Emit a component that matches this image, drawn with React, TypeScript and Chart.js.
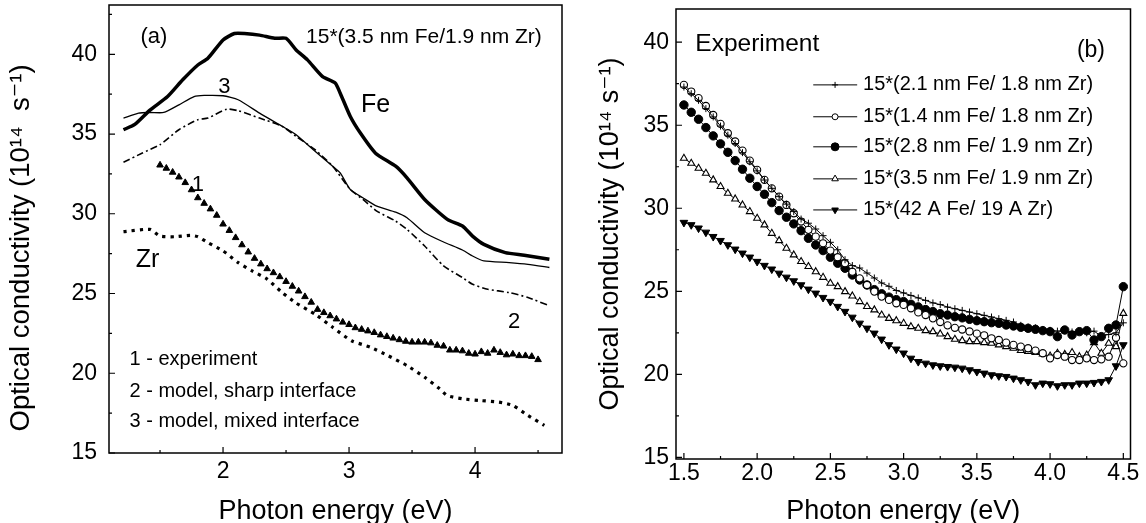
import React, { useEffect, useRef } from "react";
import { Chart, registerables } from "chart.js";

Chart.register(...registerables);

const FONT = '"Liberation Sans", Arial, "DejaVu Sans", sans-serif';

// ---------------- Panel (a) data ----------------
const feEnergy = [1.21, 1.3, 1.42, 1.56, 1.68, 1.8, 1.88, 2.0, 2.09, 2.17, 2.29, 2.41, 2.5, 2.58, 2.67, 2.79, 2.89, 2.93, 3.01, 3.09, 3.21, 3.37, 3.46, 3.6, 3.78, 3.9, 3.98, 4.07, 4.24, 4.39, 4.59];
const feSigma = [35.27, 35.6, 36.5, 37.35, 38.4, 39.33, 39.75, 40.9, 41.3, 41.3, 41.2, 41.0, 41.0, 40.27, 39.65, 38.6, 38.2, 37.56, 36.1, 35.06, 33.8, 32.98, 32.25, 30.9, 29.65, 29.23, 28.6, 28.08, 27.56, 27.4, 27.15];

const mixedEnergy = [1.21, 1.33, 1.42, 1.53, 1.65, 1.77, 1.85, 2.0, 2.12, 2.29, 2.47, 2.58, 2.73, 2.87, 2.93, 3.01, 3.11, 3.22, 3.37, 3.46, 3.6, 3.75, 3.9, 3.98, 4.07, 4.27, 4.42, 4.59];
const mixedSigma = [36.0, 36.31, 36.35, 36.35, 36.83, 37.35, 37.42, 37.4, 37.15, 36.31, 35.48, 34.96, 33.92, 32.98, 32.56, 31.52, 31.0, 30.48, 30.1, 29.75, 28.81, 28.23, 27.73, 27.35, 27.04, 26.94, 26.83, 26.63];

const sharpEnergy = [1.21, 1.36, 1.5, 1.65, 1.8, 1.88, 2.03, 2.12, 2.29, 2.47, 2.58, 2.73, 2.87, 3.01, 3.11, 3.22, 3.37, 3.46, 3.6, 3.75, 3.9, 3.98, 4.1, 4.27, 4.42, 4.59];
const sharpSigma = [33.23, 33.81, 34.33, 35.27, 35.9, 36.0, 36.56, 36.46, 36.0, 35.48, 34.85, 34.02, 32.98, 31.52, 30.9, 30.17, 29.54, 29.02, 27.98, 26.73, 26.0, 25.58, 25.27, 25.06, 24.75, 24.23];

const expEnergy = [1.5, 1.55, 1.6, 1.65, 1.7, 1.75, 1.8, 1.85, 1.9, 1.95, 2.0, 2.05, 2.1, 2.15, 2.2, 2.25, 2.3, 2.35, 2.4, 2.45, 2.5, 2.55, 2.6, 2.65, 2.7, 2.75, 2.8, 2.85, 2.9, 2.95, 3.0, 3.05, 3.1, 3.15, 3.2, 3.25, 3.3, 3.35, 3.4, 3.45, 3.5, 3.55, 3.6, 3.65, 3.7, 3.75, 3.8, 3.85, 3.9, 3.95, 4.0, 4.05, 4.1, 4.15, 4.2, 4.25, 4.3, 4.35, 4.4, 4.45, 4.5];
const expSigma = [33.05, 32.85, 32.6, 32.3, 31.95, 31.5, 31.0, 30.65, 30.3, 29.9, 29.35, 28.95, 28.5, 28.05, 27.6, 27.2, 26.85, 26.55, 26.3, 26.05, 25.75, 25.45, 25.15, 24.8, 24.45, 24.0, 23.8, 23.6, 23.4, 23.2, 23.05, 22.85, 22.75, 22.65, 22.55, 22.4, 22.3, 22.2, 22.1, 22.0, 21.95, 21.95, 21.95, 21.9, 21.75, 21.7, 21.45, 21.45, 21.4, 21.25, 21.2, 21.35, 21.25, 21.45, 21.3, 21.15, 21.2, 21.1, 21.1, 21.05, 20.85];

const zrEnergy = [1.21, 1.42, 1.5, 1.62, 1.74, 1.8, 1.88, 2.0, 2.12, 2.23, 2.35, 2.47, 2.58, 2.73, 2.87, 3.02, 3.17, 3.31, 3.46, 3.6, 3.72, 3.78, 3.9, 4.04, 4.19, 4.3, 4.42, 4.55];
const zrSigma = [28.88, 29.02, 28.6, 28.56, 28.65, 28.56, 28.19, 27.67, 26.94, 26.42, 25.9, 25.06, 24.4, 23.71, 22.88, 22.04, 21.63, 21.1, 20.48, 19.75, 19.02, 18.6, 18.4, 18.29, 18.19, 17.98, 17.35, 16.73];

const aXTicks = [2, 3, 4];
const aXTickLabels = ["2", "3", "4"];
const aXMinor = [1.5, 2.5, 3.5, 4.5];
const aYTicks = [15, 20, 25, 30, 35, 40];
const aYTickLabels = ["15", "20", "25", "30", "35", "40"];
const aYMinor = [17.5, 22.5, 27.5, 32.5, 37.5, 42.5];

// ---------------- Panel (b) data ----------------
const bEnergy = [1.5, 1.55, 1.6, 1.65, 1.7, 1.75, 1.8, 1.85, 1.9, 1.95, 2.0, 2.05, 2.1, 2.15, 2.2, 2.25, 2.3, 2.35, 2.4, 2.45, 2.5, 2.55, 2.6, 2.65, 2.7, 2.75, 2.8, 2.85, 2.9, 2.95, 3.0, 3.05, 3.1, 3.15, 3.2, 3.25, 3.3, 3.35, 3.4, 3.45, 3.5, 3.55, 3.6, 3.65, 3.7, 3.75, 3.8, 3.85, 3.9, 3.95, 4.0, 4.05, 4.1, 4.15, 4.2, 4.25, 4.3, 4.35, 4.4, 4.45, 4.5];

const s21_18 = [37.3, 36.9, 36.5, 36.0, 35.5, 34.95, 34.4, 33.9, 33.35, 32.8, 32.25, 31.7, 31.2, 30.7, 30.25, 29.8, 29.35, 29.1, 28.75, 28.35, 27.95, 27.5, 26.9, 26.55, 26.4, 26.1, 25.8, 25.5, 25.3, 25.05, 24.9, 24.75, 24.6, 24.45, 24.3, 24.2, 24.05, 23.95, 23.85, 23.75, 23.65, 23.55, 23.45, 23.35, 23.25, 23.15, 22.95, 22.85, 22.8, 22.7, 22.65, 22.6, 22.62, 22.55, 22.6, 22.5, 22.6, 22.3, 22.4, 22.5, 23.1];
const s14_18 = [37.43, 37.03, 36.63, 36.16, 35.62, 35.08, 34.52, 34.02, 33.47, 32.87, 32.31, 31.71, 31.2, 30.7, 30.2, 29.7, 29.2, 28.7, 28.29, 27.89, 27.45, 27.05, 26.69, 26.18, 25.78, 25.38, 24.98, 24.68, 24.48, 24.28, 24.18, 23.98, 23.73, 23.57, 23.37, 23.15, 22.95, 22.8, 22.7, 22.58, 22.45, 22.35, 22.17, 22.07, 21.91, 21.77, 21.67, 21.57, 21.43, 21.27, 20.96, 21.16, 21.06, 20.86, 20.86, 20.96, 20.86, 20.9, 21.06, 22.2, 20.66];
const s28_19 = [36.22, 35.78, 35.36, 34.86, 34.36, 33.88, 33.37, 32.87, 32.35, 31.81, 31.31, 30.84, 30.34, 29.86, 29.46, 29.06, 28.65, 28.19, 27.79, 27.45, 27.05, 26.69, 26.39, 25.98, 25.68, 25.38, 25.1, 24.85, 24.65, 24.5, 24.38, 24.22, 24.06, 23.9, 23.78, 23.65, 23.57, 23.47, 23.4, 23.31, 23.23, 23.17, 23.11, 23.07, 22.97, 22.91, 22.83, 22.77, 22.71, 22.63, 22.57, 22.27, 22.67, 22.37, 22.57, 22.63, 22.07, 22.27, 22.77, 22.97, 25.28];
const s35_19 = [33.01, 32.71, 32.41, 32.11, 31.71, 31.31, 30.9, 30.56, 30.2, 29.8, 29.4, 29.0, 28.49, 28.05, 27.59, 27.19, 26.79, 26.49, 26.18, 25.84, 25.48, 25.28, 24.98, 24.72, 24.38, 24.08, 23.88, 23.57, 23.37, 23.23, 23.07, 22.87, 22.77, 22.63, 22.57, 22.43, 22.27, 22.11, 22.03, 21.97, 21.97, 21.91, 21.87, 21.77, 21.67, 21.57, 21.43, 21.37, 21.31, 21.22, 21.1, 21.27, 21.2, 21.31, 21.06, 21.16, 21.91, 21.27, 21.87, 21.67, 23.67];
const s42_19 = [29.14, 29.0, 28.8, 28.55, 28.29, 28.05, 27.79, 27.53, 27.29, 27.05, 26.79, 26.55, 26.33, 26.08, 25.84, 25.62, 25.38, 25.12, 24.88, 24.62, 24.38, 24.08, 23.78, 23.43, 23.07, 22.77, 22.47, 22.11, 21.77, 21.51, 21.27, 20.96, 20.76, 20.66, 20.56, 20.5, 20.46, 20.42, 20.36, 20.26, 20.16, 20.06, 19.96, 19.9, 19.86, 19.76, 19.66, 19.56, 19.36, 19.46, 19.42, 19.3, 19.36, 19.36, 19.46, 19.46, 19.5, 19.56, 19.66, 20.5, 21.77];

const bSeriesNames = [
  "15*(2.1 nm Fe/ 1.8 nm Zr)",
  "15*(1.4 nm Fe/ 1.8 nm Zr)",
  "15*(2.8 nm Fe/ 1.9 nm Zr)",
  "15*(3.5 nm Fe/ 1.9 nm Zr)",
  "15*(42 A Fe/ 19 A Zr)",
];

const bXTicks = [1.5, 2.0, 2.5, 3.0, 3.5, 4.0, 4.5];
const bXTickLabels = ["1.5", "2.0", "2.5", "3.0", "3.5", "4.0", "4.5"];
const bXMinor = [1.75, 2.25, 2.75, 3.25, 3.75, 4.25];
const bYTicks = [15, 20, 25, 30, 35, 40];
const bYTickLabels = ["15", "20", "25", "30", "35", "40"];
const bYMinor = [17.5, 22.5, 27.5, 32.5, 37.5];

const Y_TITLE_A = "Optical conductivity (10¹⁴  s⁻¹)";
const Y_TITLE_B = "Optical conductivity (10¹⁴ s⁻¹)";
const X_TITLE = "Photon energy (eV)";

// ---------------- helpers ----------------
const pts = (xs: number[], ys: number[]) => xs.map((x, i) => ({ x, y: ys[i] }));

type Marker = "cross" | "openCircle" | "filledCircle" | "openTriangle" | "filledDown";

const markerStyle: Record<Marker, any> = {
  cross: { pointStyle: "cross", pointRadius: 3.5, pointBackgroundColor: "#000", pointBorderWidth: 1 },
  openCircle: { pointStyle: "circle", pointRadius: 3.6, pointBackgroundColor: "#fff", pointBorderWidth: 1.1 },
  filledCircle: { pointStyle: "circle", pointRadius: 4.2, pointBackgroundColor: "#000", pointBorderWidth: 1 },
  openTriangle: { pointStyle: "triangle", pointRadius: 4, pointBackgroundColor: "#fff", pointBorderWidth: 1.1 },
  filledDown: { pointStyle: "triangle", pointRadius: 4.4, pointRotation: 180, pointBackgroundColor: "#000", pointBorderWidth: 1 },
};
const bMarkers: Marker[] = ["cross", "openCircle", "filledCircle", "openTriangle", "filledDown"];
const bSeries = [s21_18, s14_18, s28_19, s35_19, s42_19];

function drawMarker(ctx: CanvasRenderingContext2D, m: Marker, x: number, y: number) {
  ctx.save();
  ctx.strokeStyle = "#000";
  ctx.lineWidth = 1;
  ctx.beginPath();
  if (m === "cross") {
    ctx.moveTo(x - 3, y); ctx.lineTo(x + 3, y);
    ctx.moveTo(x, y - 3); ctx.lineTo(x, y + 3);
    ctx.stroke();
  } else if (m === "openCircle" || m === "filledCircle") {
    const r = m === "openCircle" ? 3 : 4;
    ctx.arc(x, y, r, 0, Math.PI * 2);
    ctx.fillStyle = m === "openCircle" ? "#fff" : "#000";
    ctx.fill(); ctx.stroke();
  } else {
    const r = 3.8;
    const dir = m === "openTriangle" ? 1 : -1;
    ctx.moveTo(x, y - dir * r);
    ctx.lineTo(x + r * 0.866, y + dir * r * 0.5);
    ctx.lineTo(x - r * 0.866, y + dir * r * 0.5);
    ctx.closePath();
    ctx.fillStyle = m === "openTriangle" ? "#fff" : "#000";
    ctx.fill(); ctx.stroke();
  }
  ctx.restore();
}

function framePlugin(xMajor: number[], xMinor: number[], yMajor: number[], yMinor: number[]) {
  return {
    id: "frameTicks",
    afterDraw(chart: any) {
      const { ctx, chartArea: a, scales } = chart;
      ctx.save();
      ctx.strokeStyle = "#000";
      ctx.lineWidth = 1.5;
      ctx.strokeRect(a.left, a.top, a.right - a.left, a.bottom - a.top);
      ctx.lineWidth = 1.2;
      ctx.beginPath();
      const tx = (v: number, len: number) => {
        const p = scales.x.getPixelForValue(v);
        ctx.moveTo(p, a.bottom); ctx.lineTo(p, a.bottom - len);
      };
      const ty = (v: number, len: number) => {
        const p = scales.y.getPixelForValue(v);
        ctx.moveTo(a.left, p); ctx.lineTo(a.left + len, p);
      };
      xMajor.forEach((v) => tx(v, 6));
      xMinor.forEach((v) => tx(v, 3));
      yMajor.forEach((v) => ty(v, 6));
      yMinor.forEach((v) => ty(v, 3));
      ctx.stroke();
      ctx.restore();
    },
  };
}

type Note = { text: string; x: number; y: number; size: number; align: CanvasTextAlign };

function notesPlugin(notes: Note[]) {
  return {
    id: "notes",
    afterDraw(chart: any) {
      const { ctx, scales } = chart;
      ctx.save();
      ctx.fillStyle = "#000";
      ctx.textBaseline = "middle";
      notes.forEach((n) => {
        ctx.font = `${n.size}px ${FONT}`;
        ctx.textAlign = n.align;
        ctx.fillText(n.text, scales.x.getPixelForValue(n.x), scales.y.getPixelForValue(n.y));
      });
      ctx.restore();
    },
  };
}

// vertical axis title drawn at a given centre (pixel x from canvas left, data y for centre)
function yTitlePlugin(text: string, px: number, yCentre: number, size: number) {
  return {
    id: "yTitle",
    afterDraw(chart: any) {
      const { ctx, scales } = chart;
      ctx.save();
      ctx.translate(px, scales.y.getPixelForValue(yCentre));
      ctx.rotate(-Math.PI / 2);
      ctx.fillStyle = "#000";
      ctx.font = `${size}px ${FONT}`;
      ctx.textAlign = "center";
      ctx.textBaseline = "middle";
      ctx.fillText(text, 0, 0);
      ctx.restore();
    },
  };
}

const bLegendRowsY = [37.43, 35.51, 33.7, 31.77, 29.9];

const legendBPlugin = {
  id: "legendB",
  afterDraw(chart: any) {
    const { ctx, scales } = chart;
    const x0 = scales.x.getPixelForValue(2.383);
    const x1 = scales.x.getPixelForValue(2.683);
    const xm = scales.x.getPixelForValue(2.532);
    const xt = scales.x.getPixelForValue(2.723);
    ctx.save();
    bSeriesNames.forEach((name, i) => {
      const y = scales.y.getPixelForValue(bLegendRowsY[i]);
      ctx.strokeStyle = "#000";
      ctx.lineWidth = 1;
      ctx.beginPath();
      ctx.moveTo(x0, y); ctx.lineTo(x1, y);
      ctx.stroke();
      drawMarker(ctx, bMarkers[i], xm, y);
      ctx.fillStyle = "#000";
      ctx.font = `20px ${FONT}`;
      ctx.textAlign = "left";
      ctx.textBaseline = "middle";
      ctx.fillText(name, xt, y);
    });
    ctx.restore();
  },
};

const tickFont = { family: FONT, size: 23 };
const titleFont = { family: FONT, size: 27, lineHeight: 1 };

function axisX(min: number, max: number, ticks: number[], labels: string[], height: number, pad: number) {
  return {
    type: "linear",
    min,
    max,
    afterBuildTicks: (s: any) => { s.ticks = ticks.map((v) => ({ value: v })); },
    afterFit: (s: any) => { s.height = height; s.paddingLeft = 0; s.paddingRight = 0; },
    grid: { display: false, drawTicks: false },
    border: { display: false },
    ticks: { font: tickFont, color: "#000", padding: pad, maxRotation: 0, autoSkip: false, callback: (_v: any, i: number) => labels[i] },
    title: { display: true, text: X_TITLE, font: titleFont, color: "#000", padding: { top: 0, bottom: -2 } },
  };
}

function axisY(min: number, max: number, ticks: number[], labels: string[], width: number, pad: number, title: string | null, titlePad: number) {
  return {
    type: "linear",
    min,
    max,
    afterBuildTicks: (s: any) => { s.ticks = ticks.map((v) => ({ value: v })); },
    afterFit: (s: any) => { s.width = width; s.paddingTop = 0; s.paddingBottom = 0; },
    grid: { display: false, drawTicks: false },
    border: { display: false },
    ticks: { font: tickFont, color: "#000", padding: pad, autoSkip: false, callback: (_v: any, i: number) => labels[i] },
    title: { display: title !== null, text: title || "", font: titleFont, color: "#000", padding: { top: titlePad, bottom: 0 } },
  };
}

const notesA: Note[] = [
  { text: "(a)", x: 1.452, y: 41.08, size: 22, align: "center" },
  { text: "15*(3.5 nm Fe/1.9 nm Zr)", x: 2.659, y: 41.08, size: 21, align: "left" },
  { text: "Fe", x: 3.21, y: 36.82, size: 25, align: "center" },
  { text: "3", x: 2.01, y: 37.95, size: 22, align: "center" },
  { text: "1", x: 1.8, y: 31.81, size: 22, align: "center" },
  { text: "Zr", x: 1.4, y: 27.11, size: 25, align: "center" },
  { text: "2", x: 4.31, y: 23.23, size: 22, align: "center" },
  { text: "1 - experiment", x: 1.258, y: 20.85, size: 20, align: "left" },
  { text: "2 - model, sharp interface", x: 1.258, y: 18.84, size: 20, align: "left" },
  { text: "3 - model, mixed interface", x: 1.258, y: 16.96, size: 20, align: "left" },
];

const notesB: Note[] = [
  { text: "Experiment", x: 1.578, y: 39.9, size: 24.5, align: "left" },
  { text: "(b)", x: 4.279, y: 39.48, size: 23, align: "center" },
];

function configA(): any {
  return {
    type: "line",
    data: {
      datasets: [
        { label: "Fe", data: pts(feEnergy, feSigma), borderColor: "#000", borderWidth: 3.5, pointRadius: 0, tension: 0.2, fill: false },
        { label: "3", data: pts(mixedEnergy, mixedSigma), borderColor: "#000", borderWidth: 1.3, pointRadius: 0, tension: 0.2, fill: false },
        { label: "2", data: pts(sharpEnergy, sharpSigma), borderColor: "#000", borderWidth: 1.6, borderDash: [7, 3, 2, 3], pointRadius: 0, tension: 0.2, fill: false },
        { label: "1", data: pts(expEnergy, expSigma), showLine: false, pointStyle: "triangle", pointRadius: 3.8, pointBackgroundColor: "#000", pointBorderColor: "#000", pointBorderWidth: 1 },
        { label: "Zr", data: pts(zrEnergy, zrSigma), borderColor: "#000", borderWidth: 3.2, borderDash: [3.2, 5], pointRadius: 0, tension: 0.2, fill: false },
      ],
    },
    options: {
      responsive: false,
      animation: false,
      devicePixelRatio: 1,
      layout: { padding: { top: 5, right: 11, left: 0, bottom: 0 } },
      plugins: { legend: { display: false }, tooltip: { enabled: false } },
      scales: {
        x: axisX(1.095, 4.69, aXTicks, aXTickLabels, 70, 5),
        y: axisY(15, 43.09, aYTicks, aYTickLabels, 109, 12, null, 0),
      },
    },
    plugins: [framePlugin(aXTicks, aXMinor, aYTicks, aYMinor), notesPlugin(notesA), yTitlePlugin(Y_TITLE_A, 21, 27.86, 27.5)],
  };
}

function configB(): any {
  return {
    type: "line",
    data: {
      datasets: bSeries.map((s, i) => ({
        label: bSeriesNames[i],
        data: pts(bEnergy, s),
        borderColor: "#000",
        borderWidth: 1,
        pointBorderColor: "#000",
        fill: false,
        ...markerStyle[bMarkers[i]],
      })),
    },
    options: {
      responsive: false,
      animation: false,
      devicePixelRatio: 1,
      layout: { padding: { top: 9, right: 15.5, left: 0, bottom: 0 } },
      plugins: { legend: { display: false }, tooltip: { enabled: false } },
      scales: {
        x: axisX(1.446, 4.549, bXTicks, bXTickLabels, 64, 1),
        y: axisY(14.9, 42.0, bYTicks, bYTickLabels, 103, 7, Y_TITLE_B, 24),
      },
    },
    plugins: [framePlugin(bXTicks, bXMinor, bYTicks, bYMinor), notesPlugin(notesB), legendBPlugin],
  };
}

function ChartCanvas({ make, left, width }: { make: () => any; left: number; width: number }) {
  const ref = useRef<HTMLCanvasElement>(null);
  useEffect(() => {
    const chart = new Chart(ref.current as HTMLCanvasElement, make());
    return () => chart.destroy();
  }, []);
  return (
    <canvas
      ref={ref}
      width={width}
      height={523}
      style={{ position: "absolute", left, top: 0, width, height: 523, display: "block" }}
    />
  );
}

export default function App() {
  return (
    <div style={{ position: "absolute", left: 0, top: 0, width: 1146, height: 523, background: "#fff", overflow: "hidden" }}>
      <ChartCanvas make={configA} left={0} width={573} />
      <ChartCanvas make={configB} left={573} width={573} />
    </div>
  );
}
